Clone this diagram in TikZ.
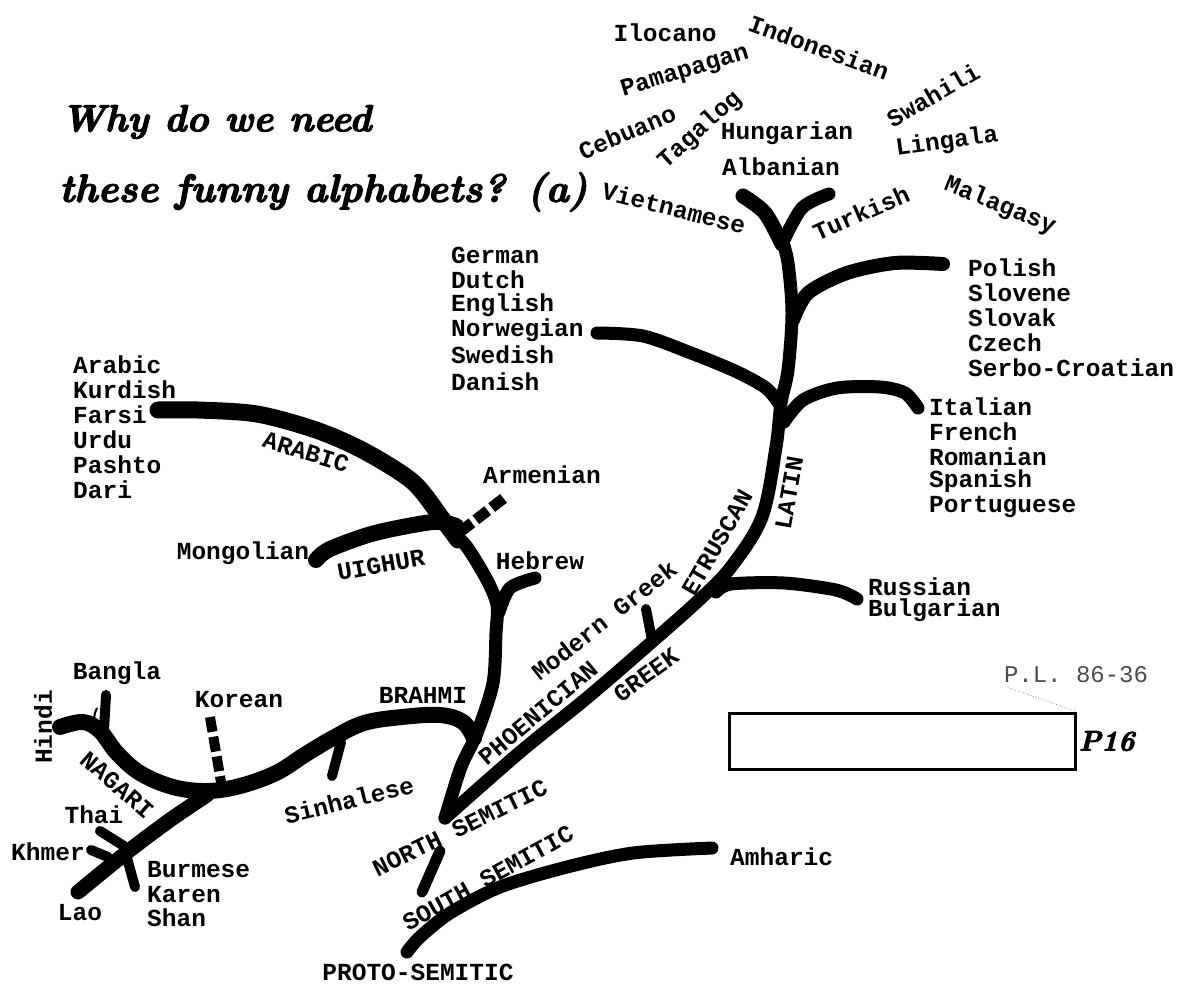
\documentclass[tikz,border=0pt]{standalone}
\usepackage{fontspec}
\setmonofont{Liberation Mono}
\newfontfamily\plfont{Liberation Mono}
\newfontfamily\titlefont[BoldItalicFeatures={FakeBold=3}]{Latin Modern Roman}
\begin{document}
\begin{tikzpicture}[x=1pt,y=-1pt,
  lab/.style={font=\ttfamily\bfseries\fontsize{24.5}{28}\selectfont, inner sep=0pt, text=black},
  lst/.style={lab, anchor=west},
  br/.style={line width=13pt, line cap=round, line join=round, black},
  thick br/.style={br, line width=17pt},
  thin br/.style={br, line width=10pt},
  dash br/.style={br, line width=11pt, line cap=butt, dash pattern=on 15pt off 5pt}]
\useasboundingbox (0,0) rectangle (1190,983);
\fill[white] (0,0) rectangle (1190,983);

% ---------- title ----------
\node[anchor=west, inner sep=0pt] (t1) at (61,122) {\resizebox{310pt}{!}{\titlefont\bfseries\itshape Why do we need}};
\node[anchor=west, inner sep=0pt] (t2) at (59,192) {\resizebox{528pt}{!}{\titlefont\bfseries\itshape these funny alphabets? (a)}};

% ---------- strokes ----------
% Latin / Greek / Phoenician
\draw[br] plot[smooth, tension=0.55] coordinates {(445,818) (519,753) (588,697) (646,647) (699,600) (731,567) (762,517) (776,447) (781,403) (788,370) (792,313) (788,263) (782,240)};
\draw[br, line width=15pt] plot[smooth] coordinates {(782,244) (765,213) (743,196)};
\draw[br, line width=13pt] plot[smooth] coordinates {(782,244) (802,208) (829,194)};
% Germanic
\draw[br] plot[smooth] coordinates {(597,333) (643,336) (691,353) (735,371) (766,388) (780,405)};
% Slavic (Polish)
\draw[br, line width=14pt] plot[smooth] coordinates {(793,320) (808,293) (847,273) (895,263) (943,264)};
% Romance
\draw[br] plot[smooth] coordinates {(784,422) (803,400) (837,388) (880,387) (905,393) (918,408)};
% Cyrillic
\draw[br] plot[smooth] coordinates {(716,592) (731,584) (784,583) (836,590) (857,599)};
% Modern Greek spur
\draw[thin br] (646,609) -- (652,640);
% Arabic curve
\draw[thick br] plot[smooth] coordinates {(158,410) (198,410) (257,414) (316,430) (364,451) (413,482) (443,520) (458,540)};
% Semitic trunk
\draw[br] plot[smooth] coordinates {(452,532) (467,547) (487,580) (497,605) (496,633) (493,683) (477,733) (461,767) (445,818)};
% Hebrew spur
\draw[br] plot[smooth] coordinates {(499,612) (510,588) (535,578)};
% Uighur
\draw[br, line width=16pt] plot[smooth] coordinates {(316,560) (330,549) (375,533) (433,522) (456,526)};
% Armenian (dashed)
\draw[dash br] (460,532) -- (504,498);
% Brahmi / Nagari
\draw[br, line width=16pt] plot[smooth, tension=0.6] coordinates {(474,738) (463,722) (440,715) (402,717) (364,723) (333,738) (306,754) (276,773) (240,786) (207,791) (173,787) (140,773) (117,753) (100,731) (83,722) (60,727)};
% Bangla
\draw[thin br] (106,695) -- (104,730);
\draw[black, line width=2pt] (95,724) .. controls (94,715) .. (97,708);
% Korean (dashed)
\draw[dash br, line width=10pt] (210,717) -- (222,788);
% Sinhalese
\draw[thin br] (341,742) -- (332,776);
% SE Asian branch
\draw[br, line width=15pt] plot[smooth] coordinates {(78,892) (126,853) (170,820) (207,795)};
\draw[thin br] (100,831) -- (124,846);
\draw[thin br] (91,850) -- (108,857);
\draw[thin br] (127,858) -- (135,887);
% North Semitic stub
\draw[br, line width=11pt] (440,851) -- (422,892);
% South Semitic
\draw[br] plot[smooth] coordinates {(407,952) (420,937) (450,913) (500,887) (567,867) (633,853) (712,848)};

% ---------- top labels ----------
\node[lab] (ilocano) at (665,33) {Ilocano};
\node[lab, rotate=-20] (indonesian) at (819,47) {Indonesian};
\node[lab, rotate=17] (pamapagan) at (685,72) {Pamapagan};
\node[lab, rotate=23] (cebuano) at (627,132) {Cebuano};
\node[lab, rotate=42] (tagalog) at (700,130) {Tagalog};
\node[lab] (hungarian) at (787,133) {Hungarian};
\node[lab] (albanian) at (781,167) {Albanian};
\node[lab, rotate=30] (swahili) at (933,95) {Swahili};
\node[lab, rotate=8] (lingala) at (947,142) {Lingala};
\node[lab, rotate=-14] (vietnamese) at (674,208) {Vietnamese};
\node[lab, rotate=24] (turkish) at (861,213) {Turkish};
\node[lab, rotate=-22] (malagasy) at (1000,206) {Malagasy};

% Germanic list
\node[lst] (german) at (451,255) {German};
\node[lst] (dutch) at (451,280) {Dutch};
\node[lst] (english) at (451,305) {English};
\node[lst] (norwegian) at (451,330) {Norwegian};
\node[lst] (swedish) at (451,355) {Swedish};
\node[lst] (danish) at (451,382) {Danish};
% Slavic list
\node[lst] (polish) at (968,268) {Polish};
\node[lst] (slovene) at (968,293) {Slovene};
\node[lst] (slovak) at (968,318) {Slovak};
\node[lst] (czech) at (968,343) {Czech};
\node[lst] (serbo) at (968,368) {Serbo-Croatian};
% Romance list
\node[lst] (italian) at (929,407) {Italian};
\node[lst] (french) at (929,432) {French};
\node[lst] (romanian) at (929,457) {Romanian};
\node[lst] (spanish) at (929,481) {Spanish};
\node[lst] (portuguese) at (929,507) {Portuguese};
% Arabic list
\node[lst] (arabicl) at (73,365) {Arabic};
\node[lst] (kurdish) at (73,390) {Kurdish};
\node[lst] (farsi) at (73,415) {Farsi};
\node[lst] (urdu) at (73,440) {Urdu};
\node[lst] (pashto) at (73,465) {Pashto};
\node[lst] (dari) at (73,490) {Dari};

% middle labels
\node[lab, rotate=-17] (arabicb) at (306,452) {ARABIC};
\node[lab] (armenian) at (542,475) {Armenian};
\node[lab] (mongolian) at (243,553) {Mongolian};
\node[lab, rotate=10] (uighur) at (381,565) {UIGHUR};
\node[lab] (hebrew) at (540,561) {Hebrew};
\node[lab, rotate=38] (modgreek) at (604,620) {Modern Greek};
\node[lab, rotate=60] (etruscan) at (717,543) {ETRUSCAN};
\node[lab, rotate=80] (latin) at (789,493) {LATIN};
\node[lst] (russian) at (868,587) {Russian};
\node[lst] (bulgarian) at (868,610) {Bulgarian};
\node[lab, rotate=36] (greek) at (646,675) {GREEK};
\node[lab, rotate=40] (phoenician) at (538,713) {PHOENICIAN};

% lower left labels
\node[lab] (bangla) at (117,673) {Bangla};
\node[lab, rotate=90] (hindi) at (43,727) {Hindi};
\node[lab] (korean) at (239,700) {Korean};
\node[lab] (brahmi) at (423,695) {BRAHMI};
\node[lab, rotate=-41] (nagari) at (117,785) {NAGARI};
\node[lab, rotate=14] (sinhalese) at (349,800) {Sinhalese};
\node[lab] (thai) at (94,815) {Thai};
\node[lab] (khmer) at (48,852) {Khmer};
\node[lst] (burmese) at (147,870) {Burmese};
\node[lst] (karen) at (147,895) {Karen};
\node[lst] (shan) at (147,918) {Shan};
\node[lab] (lao) at (80,913) {Lao};
\node[lab, rotate=26] (northsem) at (460,828) {NORTH SEMITIC};
\node[lab, rotate=29] (southsem) at (488,878) {SOUTH SEMITIC};
\node[lst] (amharic) at (730,857) {Amharic};
\node[lab] (proto) at (418,972) {PROTO-SEMITIC};

% ---------- stamp box ----------
\node[draw=black, line width=3pt, minimum width=346pt, minimum height=56pt, inner sep=0pt] (box) at (902,741) {};
\node[font=\plfont\fontsize{24}{28}\selectfont, text=black!70, inner sep=0pt] (pl) at (1076,675) {P.L. 86-36};
\draw[black!55, line width=0.7pt, dotted] (pl.south west) ++(4,4) -- (box.north east);
\node[anchor=west, inner sep=0pt] (p16) at ([xshift=2pt]box.east) {\resizebox{56pt}{!}{\titlefont\bfseries\itshape P16}};
\end{tikzpicture}
\end{document}
